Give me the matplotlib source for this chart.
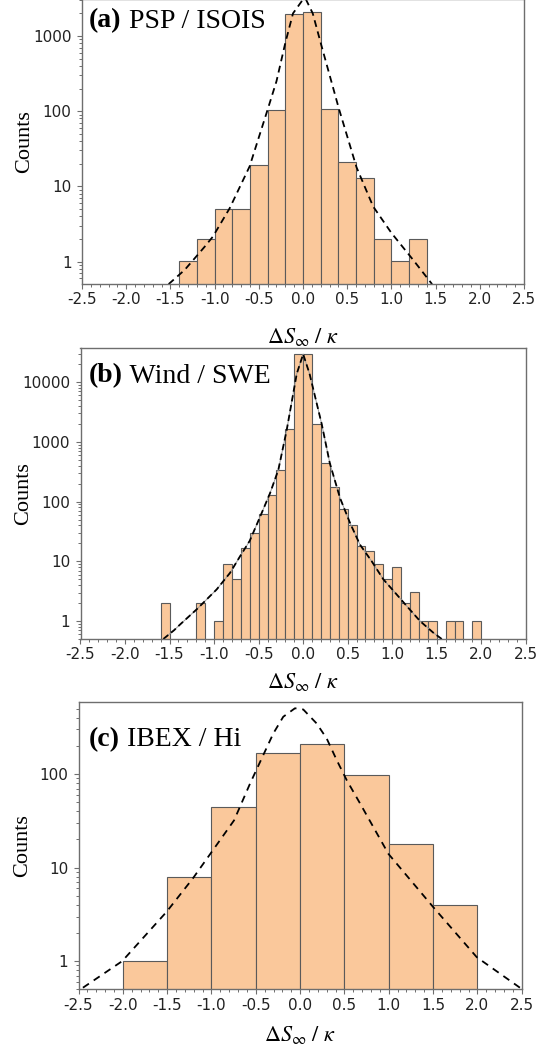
import numpy as np
import matplotlib.pyplot as plt
from matplotlib.ticker import MultipleLocator, LogLocator, NullFormatter

plt.rcParams['axes.unicode_minus'] = False
plt.rcParams['mathtext.fontset'] = 'stix'

# histogram data (left bin edges, counts)
a_left = [-1.4, -1.2, -1.0, -0.8, -0.6, -0.4, -0.2, 0.0, 0.2, 0.4, 0.6, 0.8, 1.0, 1.2]
a_counts = [1, 2, 5, 5, 19, 103, 1965, 2070, 107, 21, 13, 2, 1, 2]

b_left = [-1.6, -1.5, -1.4, -1.3, -1.2, -1.1, -1.0, -0.9, -0.8, -0.7, -0.6, -0.5,
          -0.4, -0.3, -0.2, -0.1, 0.0, 0.1, 0.2, 0.3, 0.4, 0.5, 0.6, 0.7,
          0.8, 0.9, 1.0, 1.1, 1.2, 1.3, 1.4, 1.5, 1.6, 1.7, 1.8, 1.9]
b_counts = [2, 0, 0, 0, 2, 0, 1, 9, 5, 17, 30, 62,
            129, 341, 1650, 29500, 29500, 1970, 435, 175, 75, 40, 18, 15,
            9, 5, 8, 2, 3, 1, 1, 0, 1, 1, 0, 1]

c_left = [-2.0, -1.5, -1.0, -0.5, 0.0, 0.5, 1.0, 1.5]
c_counts = [1, 8, 44, 166, 209, 98, 18, 4]

# fitted curves
a_fit_x = [-1.52, -1.34, -1.226, -1.113, -1.02, -0.83, -0.604, -0.40, -0.30, -0.20, -0.113,
           0.02, 0.11, 0.20, 0.404, 0.605, 0.793, 1.0, 1.246, 1.46]
a_fit_y = [0.5, 0.77, 1.1, 1.57, 2.14, 5.1, 18.4, 105, 250, 810, 2000,
           3300, 2000, 810, 110, 18, 5.4, 2.4, 1.05, 0.5]

b_fit_x = [-1.57, -1.45, -1.38, -1.195, -0.971, -0.821, -0.709, -0.60, -0.485, -0.372,
           -0.279, -0.185, -0.072, 0.0, 0.072, 0.208, 0.30, 0.414, 0.526, 0.638,
           0.77, 0.90, 1.031, 1.163, 1.312, 1.46, 1.556]
b_fit_y = [0.5, 0.7, 0.88, 1.57, 3.38, 6.4, 12.1, 22, 55, 138,
           338, 1567, 13800, 29500, 13800, 2000, 436, 115, 44, 19,
           10, 5, 3, 1.78, 1.0, 0.64, 0.5]

c_fit_x = [-2.45, -2.007, -1.506, -1.21, -1.009, -0.745, -0.565, -0.433, -0.302, -0.19,
           -0.058, 0.036, 0.187, 0.30, 0.413, 0.526, 0.676, 0.997, 1.5, 1.994, 2.48]
c_fit_y = [0.52, 1.0, 3.37, 7.66, 14.2, 32, 79, 147, 272, 410,
           505, 490, 347, 240, 141, 86, 48.6, 14, 3.8, 1.1, 0.52]

W, H = 540, 1053
fig = plt.figure(figsize=(W / 100, H / 100), dpi=100)

face = '#FAC89B'
edge = '#5a5a5a'
spine_col = '#6e6e6e'


def px_axes(l, t, r, b):
    return fig.add_axes([l / W, 1 - b / H, (r - l) / W, (b - t) / H])


def style(ax, ylim, yticks, ylab_x, xlab_y):
    ax.set_yscale('log')
    ax.set_xlim(-2.5, 2.5)
    ax.set_ylim(*ylim)
    ax.xaxis.set_major_locator(MultipleLocator(0.5))
    ax.xaxis.set_minor_locator(MultipleLocator(0.1))
    ax.xaxis.set_major_formatter(lambda v, p: f'{v:.1f}')
    ax.set_yticks(yticks, [str(v) for v in yticks])
    ax.yaxis.set_minor_locator(LogLocator(base=10, subs=np.arange(2, 10)))
    ax.yaxis.set_minor_formatter(NullFormatter())
    for s in ax.spines.values():
        s.set_color(spine_col)
        s.set_linewidth(1.0)
    ax.tick_params(which='major', direction='out', length=3.5, width=0.8,
                   color=spine_col, labelsize=11, labelcolor='#222222', pad=2.5)
    ax.tick_params(which='minor', direction='out', length=2, width=0.7, color=spine_col)
    ax.tick_params(axis='y', which='major', pad=4)
    pos = ax.get_position()
    fig.text(ylab_x / W, (pos.y0 + pos.y1) / 2, 'Counts', rotation=90, ha='center',
             va='center', family='Liberation Serif', fontsize=16)
    fig.text((pos.x0 + pos.x1) / 2, 1 - xlab_y / H, r'$\Delta S_\infty\ /\ \kappa$',
             ha='center', va='baseline', fontsize=16)


def panel_label(ax, x, y, tag, name):
    t = ax.text(x, y, tag, transform=ax.transAxes, family='Liberation Serif',
                weight='bold', fontsize=20, va='baseline', ha='left')
    ax.annotate(' ' + name, xy=(1, 0), xycoords=t, va='bottom', ha='left',
                family='Liberation Serif', fontsize=20)


def hist(ax, left, counts, width):
    left = np.array(left)
    counts = np.array(counts, dtype=float)
    keep = counts > 0
    ax.bar(left[keep], counts[keep], width=width, align='edge', bottom=0.01,
           color=face, edgecolor=edge, linewidth=0.8)


# (a)
ax1 = px_axes(82, -1, 524, 284)
hist(ax1, a_left, a_counts, 0.2)
ax1.plot(a_fit_x, a_fit_y, color='k', lw=1.3, ls=(0, (3.8, 2.6)))
style(ax1, (0.502, 10 ** (3 + 37 / 75.2)), [1, 10, 100, 1000], 25, 343)
panel_label(ax1, 0.016, 0.90, '(a)', 'PSP / ISOIS')

# (b)
ax2 = px_axes(80.5, 348.3, 525.8, 639)
hist(ax2, b_left, b_counts, 0.1)
ax2.plot(b_fit_x, b_fit_y, color='#9a9a9a', lw=0.7)
ax2.plot(b_fit_x, b_fit_y, color='k', lw=1.3, ls=(0, (3.5, 2.0)))
style(ax2, (0.5, 36900), [1, 10, 100, 1000, 10000], 24, 688)
panel_label(ax2, 0.019, 0.882, '(b)', 'Wind / SWE')

# (c)
ax3 = px_axes(78.5, 702.3, 521.7, 989.3)
hist(ax3, c_left, c_counts, 0.5)
ax3.plot(c_fit_x, c_fit_y, color='k', lw=1.3, ls=(0, (4.0, 3.2)))
style(ax3, (0.5, 585), [1, 10, 100], 22.5, 1041)
panel_label(ax3, 0.023, 0.848, '(c)', 'IBEX / Hi')

plt.savefig('out.png', dpi=100)
